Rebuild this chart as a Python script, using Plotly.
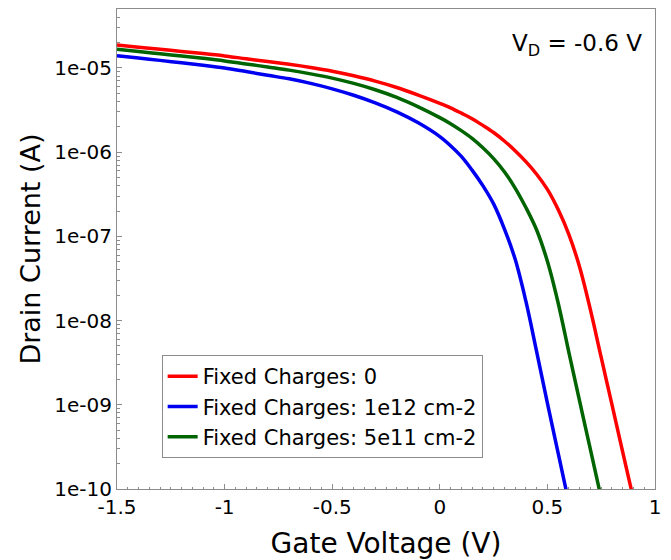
import plotly.graph_objects as go

# gate voltage (V): 0.1 V steps up to 0, 0.05 V steps after
vg = [-1.5, -1.4, -1.3, -1.2, -1.1, -1.0, -0.9, -0.8, -0.7, -0.6, -0.5, -0.4,
      -0.3, -0.2, -0.1, 0.0, 0.05, 0.1, 0.15, 0.2, 0.25, 0.3, 0.35, 0.4, 0.45,
      0.5, 0.55, 0.6, 0.65, 0.7, 0.75, 0.8, 0.85, 0.9]

# drain current (A)
id_q0 = [1.875e-5, 1.766e-5, 1.667e-5, 1.570e-5, 1.483e-5, 1.390e-5, 1.285e-5,
         1.191e-5, 1.104e-5, 1.012e-5, 9.14e-6, 8.07e-6, 6.98e-6, 5.86e-6,
         4.76e-6, 3.80e-6, 3.36e-6, 2.91e-6, 2.50e-6, 2.08e-6, 1.710e-6,
         1.358e-6, 1.042e-6, 7.73e-7, 5.47e-7, 3.61e-7, 2.08e-7, 1.050e-7,
         4.30e-8, 1.337e-8, 3.65e-9, 1.005e-9, 2.74e-10, 7.6e-11]
id_q1e12 = [1.400e-5, 1.312e-5, 1.230e-5, 1.153e-5, 1.079e-5, 1.000e-5, 9.06e-6,
            8.18e-6, 7.43e-6, 6.55e-6, 5.65e-6, 4.74e-6, 3.85e-6, 3.01e-6,
            2.23e-6, 1.531e-6, 1.194e-6, 8.91e-7, 6.12e-7, 4.01e-7, 2.43e-7,
            1.230e-7, 5.37e-8, 1.698e-8, 4.27e-9, 1.047e-9, 2.66e-10, 6.8e-11]
id_q5e11 = [1.667e-5, 1.567e-5, 1.476e-5, 1.384e-5, 1.300e-5, 1.213e-5, 1.117e-5,
            1.026e-5, 9.42e-6, 8.51e-6, 7.57e-6, 6.55e-6, 5.51e-6, 4.47e-6,
            3.45e-6, 2.57e-6, 2.18e-6, 1.80e-6, 1.455e-6, 1.127e-6, 8.38e-7,
            5.86e-7, 3.75e-7, 2.20e-7, 1.191e-7, 5.06e-8, 1.618e-8, 4.17e-9,
            1.096e-9, 2.94e-10, 7.8e-11]

names = ["Fixed Charges: 0", "Fixed Charges: 1e12 cm-2", "Fixed Charges: 5e11 cm-2"]
colors = ["#ff0000", "#0000f0", "#006400"]

x_ticks = [-1.5, -1, -0.5, 0, 0.5, 1]
x_text = ["-1.5", "-1", "-0.5", "0", "0.5", "1"]
y_ticks = [1e-10, 1e-9, 1e-8, 1e-7, 1e-6, 1e-5]
y_text = ["1e-10", "1e-09", "1e-08", "1e-07", "1e-06", "1e-05"]

font = "DejaVu Sans"
fig = go.Figure()

for name, ys, c in zip(names, [id_q0, id_q1e12, id_q5e11], colors):
    fig.add_trace(go.Scatter(
        x=vg[:len(ys)], y=ys, name=name, mode="lines",
        line=dict(color=c, width=3.5, shape="spline", smoothing=1.0),
    ))

axis_style = dict(
    showline=True, linecolor="#8c8c8c", linewidth=1, mirror=True,
    showgrid=False, zeroline=False, automargin=False,
    ticks="inside", ticklen=5, tickcolor="#8c8c8c",
    tickfont=dict(family=font, size=20, color="black"),
)

fig.update_xaxes(
    range=[-1.5, 1], tickvals=x_ticks, ticktext=x_text,
    title=dict(text="Gate Voltage (V)", font=dict(family=font, size=28, color="black")),
    minor=dict(dtick=0.05, ticks="inside", ticklen=2, tickcolor="#8c8c8c"),
    **axis_style,
)
fig.update_yaxes(
    type="log", range=[-10, -4.3], tickvals=y_ticks, ticktext=y_text,
    title=dict(text="Drain Current (A)", font=dict(family=font, size=27, color="black"),
               standoff=5),
    minor=dict(tickvals=[m * 10.0 ** e for e in range(-10, -4) for m in range(2, 10)],
               ticks="inside", ticklen=3, tickcolor="#8c8c8c"),
    **axis_style,
)

fig.add_annotation(
    text="V<sub>D</sub> = -0.6 V", xref="paper", yref="paper",
    x=0.98, y=0.925, xanchor="right", yanchor="middle", showarrow=False,
    font=dict(family=font, size=23, color="black"),
)

# the html page adds an 8px body margin, so the figure is 8px smaller
fig.update_layout(
    width=663, height=552,
    margin=dict(l=109, r=16, t=1, b=71),
    paper_bgcolor="white", plot_bgcolor="white",
    showlegend=True,
    legend=dict(
        x=0.083, y=0.279, xanchor="left", yanchor="top",
        bgcolor="white", bordercolor="#8c8c8c", borderwidth=1,
        font=dict(family=font, size=21, color="black"),
        itemwidth=30, tracegroupgap=0,
    ),
)

fig.write_html("out.html")
